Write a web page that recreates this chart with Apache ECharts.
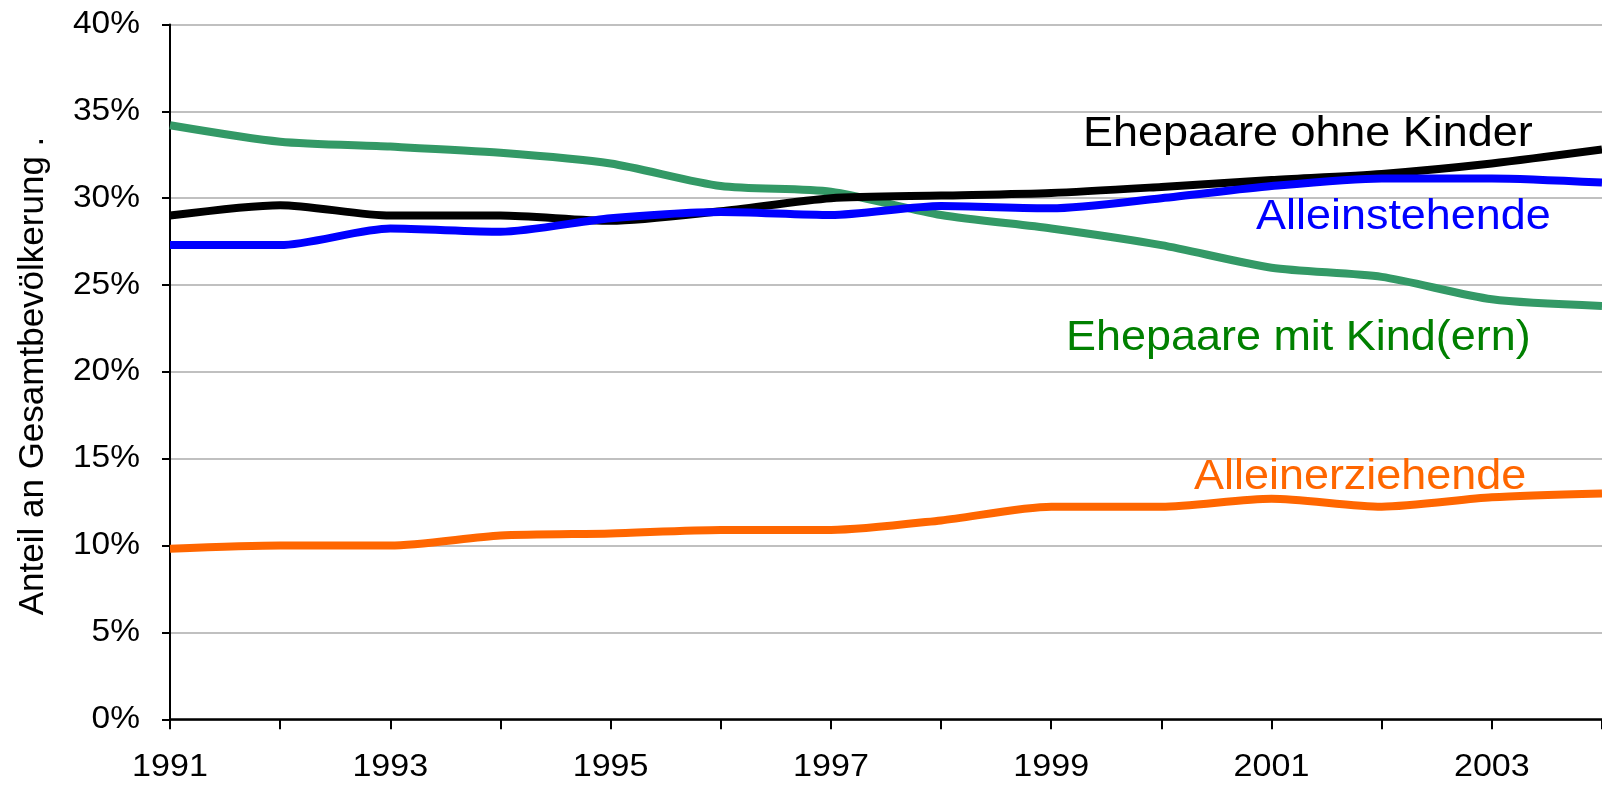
<!DOCTYPE html>
<html>
<head>
<meta charset="utf-8">
<script src="https://cdn.jsdelivr.net/npm/echarts@6/dist/echarts.min.js"></script>
<style>
html,body{margin:0;padding:0;background:#fff;}
#chart{width:1602px;height:787px;}
</style>
</head>
<body>
<div id="chart"></div>
<script>
const years = [1991,1992,1993,1994,1995,1996,1997,1998,1999,2000,2001,2002,2003,2004];
const ehepaareMitKind   = [34.2, 33.25, 32.97, 32.62, 32.0, 30.7, 30.37, 29.03, 28.26, 27.3, 26.0, 25.47, 24.18, 23.8];
const ehepaareOhneKinder = [29.0, 29.6, 29.0, 29.0, 28.7, 29.25, 30.0, 30.15, 30.3, 30.65, 31.05, 31.4, 32.0, 32.8];
const alleinstehende    = [27.3, 27.3, 28.25, 28.07, 28.85, 29.2, 29.03, 29.55, 29.42, 30.0, 30.7, 31.14, 31.14, 30.9];
const alleinerziehende  = [9.82, 10.0, 10.0, 10.58, 10.7, 10.9, 10.9, 11.45, 12.24, 12.24, 12.7, 12.24, 12.78, 13.0];
const seriesNames = ['Ehepaare mit Kind(ern)', 'Ehepaare ohne Kinder', 'Alleinstehende', 'Alleinerziehende'];
const xTickLabels = [1991, 1993, 1995, 1997, 1999, 2001, 2003];
const yTickValues = [0, 5, 10, 15, 20, 25, 30, 35, 40];
const yTitle = 'Anteil an Gesamtbevölkerung .';

const FONT = '"Liberation Sans", Arial, Helvetica, sans-serif';
const pair = arr => years.map((y, i) => [y, arr[i]]);

const chart = echarts.init(document.getElementById('chart'), null, {renderer: 'canvas'});

function lineSeries(name, data, color, z) {
  return {
    name: name, type: 'line', data: pair(data), symbol: 'none', smooth: 0.25,
    lineStyle: {color: color, width: 8, cap: 'butt', join: 'round'},
    itemStyle: {color: color}, z: z, silent: true
  };
}

function label(text, x, y, color) {
  return {
    type: 'text', x: x, y: y, scaleX: 1.07, z: 100,
    style: {text: text, fill: color, fontSize: 42, fontFamily: FONT,
            textAlign: 'left', textVerticalAlign: 'middle'}
  };
}

const baseGraphic = [
  label(seriesNames[1], 1083, 134.7, '#000000'),
  label(seriesNames[2], 1256, 217.5, '#0000ff'),
  label(seriesNames[0], 1066, 338.3, '#008000'),
  label(seriesNames[3], 1194, 477.2, '#ff6600'),
  {
    type: 'text', x: 33, y: 376, rotation: Math.PI / 2, z: 100,
    style: {text: yTitle, fill: '#000', fontSize: 35, fontFamily: FONT,
            textAlign: 'center', textVerticalAlign: 'middle'}
  }
];

chart.setOption({
  animation: false,
  backgroundColor: '#ffffff',
  grid: {left: 170, top: 24.5, width: 1434, height: 694.8, containLabel: false},
  xAxis: {
    type: 'value', min: 1991, max: 2004, interval: 1,
    axisLine: {show: true, onZero: false, lineStyle: {color: '#000', width: 2.5}},
    axisTick: {show: true, inside: false, length: 10, lineStyle: {color: '#000', width: 2}},
    splitLine: {show: false},
    axisLabel: {show: false}
  },
  yAxis: {
    type: 'value', min: 0, max: 40, interval: 5,
    axisLine: {show: true, lineStyle: {color: '#000', width: 2}},
    axisTick: {show: true, inside: false, length: 8, lineStyle: {color: '#000', width: 2}},
    splitLine: {show: true, lineStyle: {color: '#c0c0c0', width: 2}},
    axisLabel: {show: false}
  },
  series: [
    lineSeries(seriesNames[0], ehepaareMitKind, '#339966', 2),
    lineSeries(seriesNames[1], ehepaareOhneKinder, '#000000', 3),
    lineSeries(seriesNames[2], alleinstehende, '#0000ff', 4),
    lineSeries(seriesNames[3], alleinerziehende, '#ff6600', 5)
  ],
  graphic: baseGraphic
});

// tick labels positioned through the chart's own scales, slightly widened like the original
const tickGraphic = [];
yTickValues.forEach(v => {
  const p = chart.convertToPixel({gridIndex: 0}, [1991, v]);
  tickGraphic.push({
    type: 'text', x: p[0] - 30, y: p[1], scaleX: 1.08, z: 100,
    style: {text: v + '%', fill: '#000', fontSize: 31, fontFamily: FONT,
            textAlign: 'right', textVerticalAlign: 'middle'}
  });
});
xTickLabels.forEach(yr => {
  const p = chart.convertToPixel({gridIndex: 0}, [yr, 0]);
  tickGraphic.push({
    type: 'text', x: p[0], y: p[1] + 48, scaleX: 1.1, z: 100,
    style: {text: String(yr), fill: '#000', fontSize: 31, fontFamily: FONT,
            textAlign: 'center', textVerticalAlign: 'middle'}
  });
});
chart.setOption({graphic: baseGraphic.concat(tickGraphic)});
</script>
</body>
</html>
